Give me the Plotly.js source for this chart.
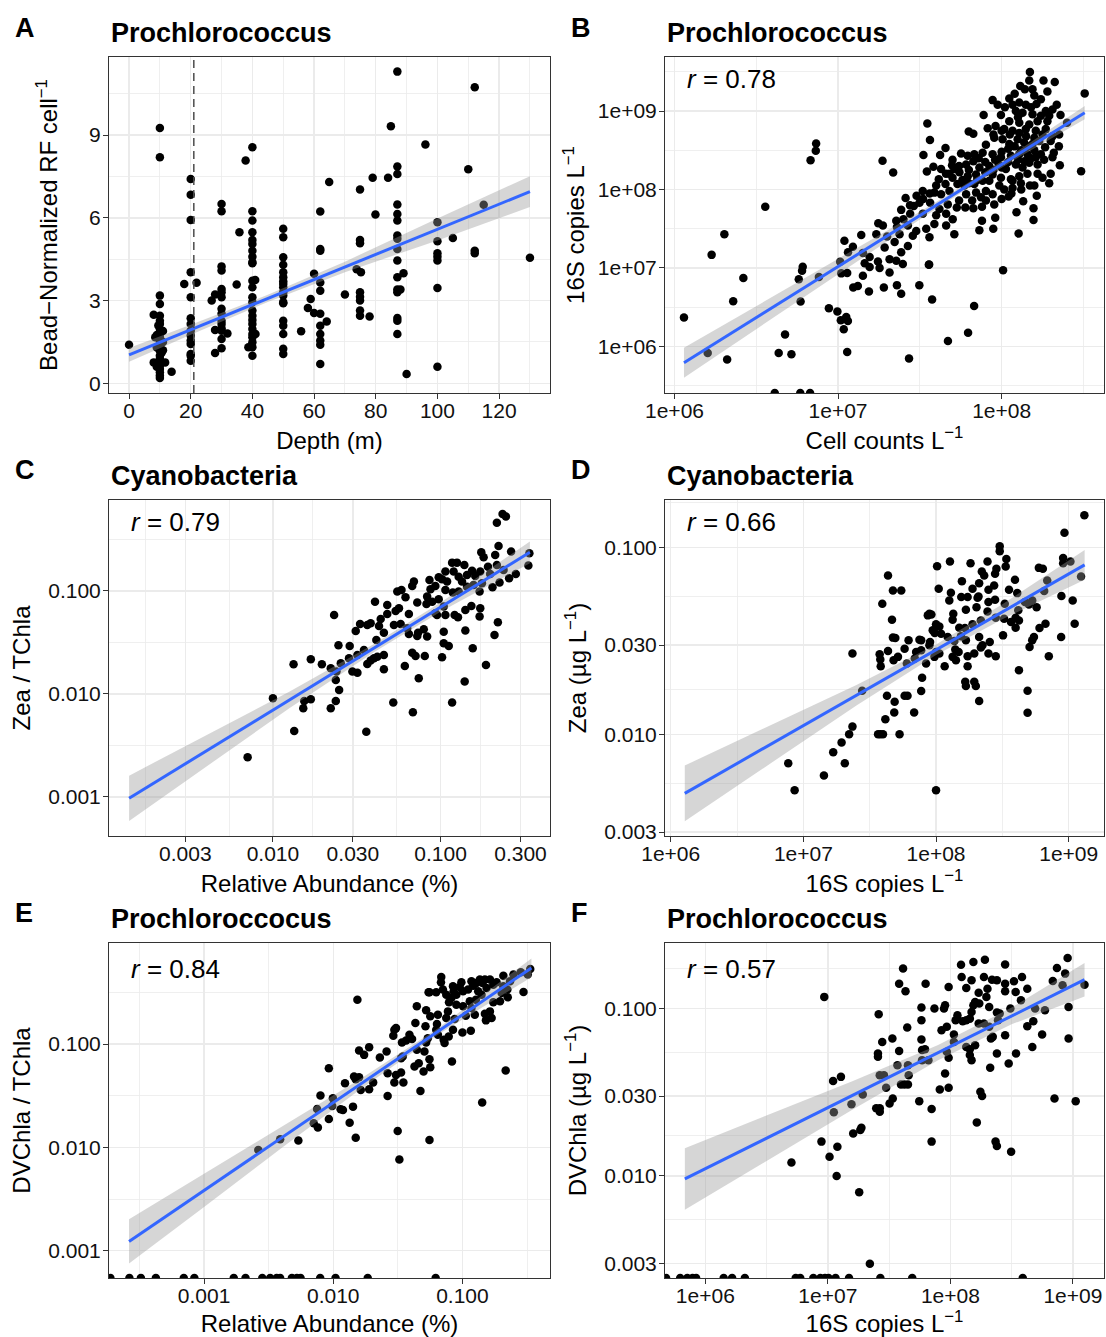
<!DOCTYPE html>
<html>
<head>
<meta charset="utf-8">
<script src="https://cdn.plot.ly/plotly-3.0.1.min.js"></script>
<style>html,body{margin:0;padding:0;background:#fff;}#chart{width:1106px;height:1337px;}</style>
</head>
<body>
<div id="chart"></div>
<script>
// ---------------- DATA ----------------
// Panel A: [depth (m), bead-normalized RF per cell]
const A_depth_rf = [
[0,1.40],
[10,9.26],[10,8.2],[10,3.18],[10,2.88],[10,2.45],[10,2.27],[10,2.15],[10,1.97],[10,1.79],[10,1.67],[10,1.55],[10,1.43],[10,1.31],[10,1.18],[10,1.0],[10,0.88],[10,0.76],[10,0.64],[10,0.52],[10,0.40],[10,0.28],[10,0.19],
[8,2.49],[8.5,1.67],[9,1.75],[9,1.3],[8,0.76],[11,1.9],[11,1.5],[11,1.2],[11.7,0.76],[13.8,0.42],[9.5,2.1],[10.5,1.1],[9,0.6],
[20,7.41],[20,6.84],[20,5.92],[20,4.03],[20,3.12],[20,2.36],[20,2.15],[20,1.91],[20,1.73],[20,1.55],[20,1.43],[20,1.06],[20,0.82],[17.9,3.6],[21.9,3.65],[20,1.0],
[26.8,3.0],[27.9,3.22],[30,6.5],[30,6.24],[30,4.24],[30,4.09],[30,3.42],[30,3.12],[30,2.70],[30,2.52],[30,2.27],[30,2.15],[30,1.91],[30,1.61],[27.9,1.93],[27.9,1.10],[30,1.27],[31.9,1.81],[30,2.0],[30,3.3],
[35.8,5.48],[34.9,3.58],[37.8,8.08],
[40,8.56],[40,6.24],[40,5.9],[40,5.48],[40,5.2],[40,5.05],[40,4.81],[40,4.59],[40,4.35],[40,3.72],[40,3.48],[40,3.12],[40,2.94],[40,2.64],[40,2.45],[40,2.15],[40,1.97],[40,1.79],[40,1.67],[40,1.49],[40,1.31],[40,1.0],[40.9,3.75],[41,1.79],[38.7,1.31],[40,4.4],[40,2.3],
[50,5.6],[50,5.3],[50,4.57],[50,4.3],[50,4.03],[50,3.85],[50,3.7],[50,3.48],[50,3.3],[50,3.18],[50,2.94],[50,2.27],[50,2.09],[50,1.79],[50,1.25],[50,1.06],[50,3.6],[50,2.9],
[55.8,1.89],[58.9,3.06],[58,2.73],[60,3.97],[60,2.55],
[62,6.23],[62,4.87],[62,4.81],[62,3.66],[62,3.36],[62,2.52],[62,2.09],[62,1.79],[62,1.55],[62,1.40],[62,0.70],[64.1,2.24],[64.9,7.3],
[70,3.22],[74.9,7.03],[74.9,5.2],[74.9,5.08],[73.8,4.14],[75.2,4.03],[74.9,3.30],[74.9,3.14],[74.9,3.0],[74.9,2.64],[74.9,2.45],[78,2.42],[79,7.45],[79.9,6.12],[84,7.45],[84.9,9.32],
[87,11.3],[87,7.86],[87,7.59],[87,6.48],[87,6.14],[87,5.9],[87,5.36],[87,5.24],[87,4.87],[87,4.45],[87,3.85],[87,3.40],[87,3.30],[87,2.37],[87,2.27],[87,1.79],[88,3.4],[89,3.99],[90,0.34],
[96.1,8.66],[100,5.84],[100,5.15],[100,4.72],[100,4.59],[100,4.45],[100,3.46],[100,0.60],[105,5.27],[110,7.76],[112.1,10.73],[112.1,4.81],[112.1,4.72],[115,6.47],[130,4.55]
];
const A_fit_depth = [0, 20, 45, 70, 100, 130];
const A_fit = [1.03, 1.94, 3.08, 4.22, 5.58, 6.95];
const A_fit_lo = [0.78, 1.76, 2.95, 4.03, 5.18, 6.39];
const A_fit_hi = [1.28, 2.12, 3.21, 4.41, 5.98, 7.51];
const A_threshold_depth = 21;

// Panel B: [log10 cell counts L-1, log10 16S copies L-1]
const B_logcells_log16S = [
[6.058,6.366],[6.203,5.915],[6.322,5.830],[6.227,7.166],[6.305,7.430],[6.359,6.574],[6.421,6.872],[6.555,7.779],[6.637,5.915],[6.676,6.149],[6.715,5.898],[6.760,6.855],[6.771,6.570],[6.784,7.013],[6.780,6.962],[6.832,8.374],[6.864,8.494],[6.866,8.587],[6.883,6.885],[6.944,6.485],[6.996,6.443],[7.017,6.332],[7.050,6.374],[7.060,6.323],[7.035,6.217],[7.056,5.928],[7.013,7.077],[7.056,6.936],[7.039,7.345],[7.093,6.749],[7.121,6.770],[7.434,5.843],[7.497,6.779],[7.575,6.596],[7.557,7.043],[7.672,6.068],[7.795,6.174],[7.832,6.515],[8.009,6.970],[8.104,7.438],[7.272,8.366],[7.337,8.217],[7.546,8.843],[7.562,8.630],[8.486,8.234],[8.508,9.226],
[8.173,9.5],[8.169,9.39],[8.114,9.32],[8.142,9.28],[8.189,9.28],[8.256,9.39],[8.325,9.37],[7.945,9.14],[7.976,9.08],[8.047,9.16],[8.067,9.08],[8.108,9.11],[8.148,9.08],[8.213,9.09],[8.337,9.08],[8.311,9.02],[8.270,9.0],[7.890,8.95],[7.996,8.95],[8.087,9.0],[8.128,8.98],[8.189,8.96],[8.240,8.94],[8.291,8.94],[8.047,8.87],[8.108,8.85],[8.169,8.83],[8.22,8.87],[8.28,8.87],[7.799,8.74],[7.827,8.71],[7.915,8.78],[7.963,8.81],[8.016,8.77],[8.067,8.75],[8.108,8.72],[8.148,8.77],[8.209,8.75],[8.270,8.77],[8.352,8.70],[7.904,8.57],[7.955,8.66],[8.006,8.64],[8.047,8.58],[8.098,8.64],[8.138,8.60],[8.189,8.58],[8.230,8.62],[8.311,8.68],[8.266,8.54],[7.657,8.53],[7.624,8.44],[7.522,8.44],[7.752,8.46],[7.793,8.43],[7.833,8.45],[7.884,8.47],[7.945,8.45],[7.996,8.41],[8.057,8.43],[8.108,8.45],[8.158,8.45],[8.209,8.41],[8.319,8.47],[8.311,8.41],[7.583,8.29],[7.630,8.26],[7.697,8.31],[7.711,8.26],[7.783,8.32],[7.827,8.36],[7.864,8.28],[7.925,8.30],[7.982,8.32],[8.026,8.26],[8.087,8.32],[8.128,8.28],[8.169,8.34],[8.22,8.32],[8.356,8.31],[7.543,8.23],[7.681,8.20],[7.742,8.22],[7.793,8.17],[7.844,8.19],[7.945,8.19],[7.996,8.15],[8.057,8.13],[8.108,8.17],[8.158,8.20],[8.22,8.20],[7.616,8.13],[7.657,8.07],[7.730,8.07],[7.772,8.05],[7.833,8.07],[7.884,8.11],[7.925,8.11],[7.986,8.05],[8.067,8.11],[8.118,8.08],[8.173,8.05],[8.291,8.08],[7.518,7.98],[7.589,7.96],[7.630,7.94],[7.681,7.98],[7.783,7.94],[7.844,7.96],[7.904,7.98],[7.945,7.94],[8.016,8.0],[8.067,8.02],[7.413,7.89],[7.463,7.79],[7.498,7.83],[7.563,7.83],[7.671,7.81],[7.726,7.77],[7.778,7.77],[7.827,7.76],[7.874,7.90],[7.904,7.86],[7.955,7.81],[8.043,7.91],[8.132,7.85],[8.215,7.92],[8.195,7.76],[8.091,7.71],[7.386,7.74],[7.441,7.69],[7.518,7.69],[7.6,7.67],[7.661,7.69],[7.701,7.62],[8.195,7.61],[7.880,7.60],[7.961,7.64],[7.246,7.57],[7.274,7.54],[7.356,7.60],[7.427,7.54],[7.478,7.47],[7.539,7.50],[7.589,7.56],[7.661,7.54],[7.711,7.43],[7.864,7.48],[7.949,7.50],[7.142,7.42],[7.234,7.43],[7.376,7.43],[7.457,7.41],[7.559,7.39],[7.091,7.27],[7.285,7.26],[7.346,7.33],[7.427,7.28],[7.061,7.20],[7.152,7.19],[7.193,7.14],[7.244,7.08],[7.315,7.11],[7.386,7.20],[7.356,7.09],[7.163,7.06],[7.193,7.01],[7.254,7.0],[7.315,6.94],[7.396,7.05],[7.555,7.04],[7.020,6.93],[7.152,6.90],[7.189,6.70],[7.280,6.75],[7.360,6.78],[7.386,6.67],
[7.70,8.38],[7.74,8.30],[7.80,8.25],[7.86,8.40],[7.90,8.35],[7.96,8.38],[8.00,8.48],[8.04,8.52],[8.08,8.55],[8.12,8.50],[8.16,8.55],[8.20,8.50],[8.24,8.45],[8.26,8.38],[8.18,8.40],[8.14,8.36],[8.10,8.38],[8.04,8.35],[8.00,8.28],[7.95,8.25],[7.90,8.22],[7.85,8.12],[7.80,8.08],[7.76,8.12],[7.70,8.15],[7.66,8.20],[7.60,8.05],[7.56,7.95],[7.52,7.88],[7.48,7.92],[7.44,7.80],[7.40,7.62],[7.36,7.52],[7.30,7.40],[7.62,7.75],[7.74,7.86],[7.82,7.86],[7.88,7.78],[8.00,7.88],[8.06,7.95],[8.12,8.00],[8.20,8.05],[8.25,8.15],[8.30,8.20],[8.35,8.55],[8.30,8.62],[8.25,8.70],[8.20,8.66],[8.15,8.68],[8.05,8.70],[8.00,8.75],[7.95,8.70],[8.10,8.92],[8.18,9.05],[8.24,9.15],[8.20,9.20],[8.28,9.25],[8.08,9.22],[8.02,9.05],[8.36,8.95],[8.40,8.85]
];
// Panel B samples with zero 16S copies (drawn at the panel edge)
const B_zero_logcells = [6.613, 6.769, 6.829];
const B_fit_logcells = [6.058, 6.5, 7.0, 7.5, 7.8, 8.1, 8.508];
const B_fit = [5.79, 6.365, 7.016, 7.667, 8.058, 8.449, 8.98];
const B_fit_lo = [5.60, 6.22, 6.921, 7.617, 8.023, 8.404, 8.895];
const B_fit_hi = [5.98, 6.51, 7.111, 7.717, 8.093, 8.494, 9.065];

// Panel C: [log10 relative abundance (%), log10 Zea/TChla]
const C_logabund_logratio = [
[-2.151,-2.615],[-2.0,-2.042],[-1.873,-2.359],[-1.877,-1.712],
[-0.664,-0.337],[-0.630,-0.252],[-0.610,-0.278],[-0.654,-0.563],[-0.674,-0.650],[-0.757,-0.625],[-0.743,-0.673],[-0.579,-0.618],[-0.470,-0.634],[-0.476,-0.754],[-0.931,-0.725],[-0.902,-0.725],[-0.858,-0.748],[-0.812,-0.803],[-0.763,-0.812],[-0.717,-0.764],[-0.664,-0.748],[-0.624,-0.796],[-0.551,-0.835],[-0.591,-0.877],[-0.971,-0.812],[-0.922,-0.812],[-0.892,-0.861],[-0.842,-0.845],[-0.793,-0.854],[-0.704,-0.835],[-1.011,-0.867],[-0.991,-0.887],[-1.066,-0.893],[-1.159,-0.909],[-1.169,-0.951],[-1.258,-1.006],[-1.233,-0.990],[-1.209,-1.061],[-1.080,-1.055],[-1.060,-0.984],[-1.031,-0.951],[-0.961,-0.909],[-0.872,-0.909],[-0.842,-0.958],[-0.803,-0.942],[-0.753,-0.926],[-0.690,-0.964],[-0.648,-0.919],[-0.767,-1.006],[-0.971,-0.990],[-0.927,-1.016],[-0.892,-1.006],[-1.084,-1.126],[-1.050,-1.104],[-1.011,-1.081],[-0.981,-1.152],[-1.139,-1.113],[-1.391,-1.104],[-1.318,-1.136],[-1.268,-1.194],[-1.248,-1.168],[-1.189,-1.223],[-1.031,-1.217],[-1.021,-1.233],[-0.971,-1.233],[-0.916,-1.233],[-0.896,-1.256],[-0.852,-1.184],[-0.816,-1.146],[-0.763,-1.168],[-0.767,-1.249],[-0.658,-1.304],[-0.678,-1.427],[-1.635,-1.233],[-1.480,-1.320],[-1.437,-1.330],[-1.417,-1.314],[-1.506,-1.388],[-1.367,-1.340],[-1.357,-1.272],[-1.318,-1.223],[-1.278,-1.330],[-1.238,-1.320],[-1.199,-1.362],[-1.189,-1.417],[-1.139,-1.437],[-1.134,-1.405],[-1.100,-1.372],[-1.080,-1.443],[-0.981,-1.395],[-0.852,-1.385],[-1.338,-1.405],[-1.609,-1.528],[-1.542,-1.534],[-1.383,-1.476],[-1.457,-1.573],[-0.981,-1.508],[-0.951,-1.534],[-0.808,-1.557],[-1.169,-1.599],[-1.149,-1.631],[-1.094,-1.631],[-0.991,-1.644],[-1.774,-1.663],[-1.708,-1.712],[-1.655,-1.751],[-1.595,-1.702],[-1.546,-1.654],[-1.496,-1.622],[-1.437,-1.709],[-1.417,-1.676],[-1.377,-1.638],[-1.338,-1.622],[-1.397,-1.654],[-1.213,-1.728],[-1.338,-1.761],[-1.526,-1.783],[-1.496,-1.793],[-1.621,-1.783],[-0.729,-1.718],[-1.130,-1.848],[-0.856,-1.880],[-1.625,-1.864],[-1.605,-1.961],[-1.625,-2.068],[-1.655,-2.139],[-1.774,-2.052],[-1.813,-2.068],[-1.819,-2.139],[-1.282,-2.084],[-0.931,-2.084],[-1.165,-2.178],[-1.443,-2.366]
];
const C_fit_logabund = [-2.858, -2.4, -1.9, -1.4, -1.0, -0.467];
const C_fit = [-3.013, -2.555, -2.056, -1.557, -1.157, -0.625];
const C_fit_lo = [-3.233, -2.705, -2.136, -1.597, -1.202, -0.730];
const C_fit_hi = [-2.793, -2.405, -1.976, -1.517, -1.112, -0.520];

// Panel D: [log10 16S copies L-1, log10 Zea (ug L-1)]
const D_log16S_logzea = [
[6.886,-2.155],[6.934,-2.299],[8.0,-2.299],
[9.118,-0.828],[8.968,-0.922],[8.958,-1.057],[8.958,-1.085],[9.013,-1.076],[9.093,-1.156],[8.945,-1.261],[9.03,-1.284],[9.045,-1.409],[8.943,-1.480],[8.85,-1.583],[8.825,-1.409],[8.78,-1.432],[8.775,-1.110],[8.805,-1.115],[8.838,-1.178],[8.815,-1.234],[8.725,-1.284],[8.758,-1.320],[8.67,-1.293],[8.70,-1.306],[8.62,-1.337],[8.60,-1.377],[8.625,-1.391],[8.565,-1.400],[8.60,-1.430],[8.738,-1.480],[8.725,-1.497],[8.705,-1.533],[8.625,-1.657],[8.69,-1.767],[8.69,-1.885],[8.612,-1.245],[8.595,-1.174],[8.55,-1.227],[8.525,-1.103],[8.48,-0.995],[8.48,-1.021],[8.53,-1.062],[8.388,-1.076],[8.445,-1.142],[8.455,-1.115],[8.345,-1.130],[8.363,-1.151],[8.26,-1.085],[8.105,-1.076],[8.008,-1.101],[8.195,-1.181],[8.275,-1.222],[8.325,-1.192],[8.395,-1.227],[8.438,-1.204],[8.445,-1.281],[8.395,-1.293],[8.518,-1.302],[8.313,-1.270],[8.32,-1.263],[8.238,-1.266],[8.19,-1.266],[8.10,-1.284],[8.112,-1.243],[8.02,-1.222],[8.225,-1.334],[8.305,-1.320],[8.388,-1.343],[8.45,-1.377],[8.513,-1.382],[8.338,-1.391],[8.13,-1.355],[8.125,-1.387],[7.95,-1.355],[7.965,-1.359],[8.0,-1.412],[8.025,-1.423],[7.975,-1.444],[7.99,-1.458],[8.038,-1.462],[8.088,-1.480],[8.175,-1.430],[8.218,-1.432],[8.275,-1.412],[8.188,-1.476],[8.225,-1.497],[8.325,-1.480],[8.405,-1.506],[8.35,-1.524],[8.338,-1.536],[8.138,-1.501],[8.145,-1.547],[8.17,-1.560],[8.238,-1.583],[8.288,-1.568],[8.395,-1.568],[8.45,-1.583],[8.505,-1.471],[8.125,-1.586],[8.15,-1.604],[8.238,-1.636],[8.065,-1.636],[7.988,-1.586],[8.0,-1.560],[8.025,-1.568],[7.95,-1.524],[7.955,-1.506],[7.888,-1.497],[7.875,-1.494],[7.925,-1.622],[7.888,-1.551],[7.85,-1.560],[7.793,-1.497],[7.763,-1.542],[7.693,-1.485],[7.675,-1.483],[7.713,-1.586],[7.68,-1.604],[7.638,-1.554],[7.575,-1.572],[7.58,-1.600],[7.583,-1.636],[7.78,-1.622],[7.84,-1.595],[7.938,-1.364],[7.595,-1.302],[7.668,-1.387],[7.638,-1.151],[7.675,-1.231],[7.738,-1.231],[7.895,-1.698],[7.888,-1.769],[7.785,-1.794],[7.763,-1.794],[7.688,-1.826],[7.63,-1.794],[7.835,-1.883],[7.685,-1.883],[7.618,-1.920],[7.58,-2.0],[7.563,-2.0],[7.60,-2.0],[7.725,-2.0],[8.22,-1.719],[8.288,-1.719],[8.225,-1.742],[8.30,-1.742],[8.325,-1.822],[7.37,-1.568],[7.443,-1.767],[7.37,-1.959],[7.345,-2.0],[7.288,-2.044],[7.225,-2.096],[7.3125,-2.155],[7.155,-2.22]
];
const D_fit_log16S = [6.106, 6.8, 7.4, 8.0, 8.5, 9.12];
const D_fit = [-2.316, -2.035, -1.791, -1.548, -1.345, -1.094];
const D_fit_lo = [-2.465, -2.135, -1.846, -1.576, -1.385, -1.174];
const D_fit_hi = [-2.167, -1.935, -1.736, -1.520, -1.305, -1.014];

// Panel E: [log10 relative abundance (%), log10 DVChla/TChla]
const E_logabund_logratio = [
[-2.580,-2.024],[-2.411,-1.921],[-2.270,-1.934],
[-0.475,-0.272],[-0.494,-0.327],[-0.527,-0.495],[-0.548,-0.304],[-0.605,-0.327],[-0.631,-0.392],[-0.683,-0.337],[-0.683,-0.440],[-0.652,-0.472],[-0.649,-0.547],[-0.696,-0.505],[-0.735,-0.401],[-0.761,-0.424],[-0.787,-0.375],[-0.813,-0.456],[-0.826,-0.375],[-0.844,-0.408],[-0.865,-0.375],[-0.891,-0.408],[-0.917,-0.434],[-0.930,-0.392],[-0.956,-0.472],[-0.878,-0.489],[-0.852,-0.521],[-0.896,-0.570],[-0.943,-0.586],[-1.008,-0.401],[-1.021,-0.447],[-1.047,-0.521],[-0.995,-0.489],[-1.073,-0.440],[-1.068,-0.489],[-1.086,-0.553],[-1.125,-0.521],[-1.104,-0.595],[-1.047,-0.618],[-0.995,-0.634],[-0.930,-0.650],[-0.974,-0.725],[-0.904,-0.715],[-0.826,-0.706],[-0.787,-0.683],[-0.818,-0.770],[-0.774,-0.748],[-0.761,-0.595],[-0.709,-0.586],[-1.164,-0.350],[-1.166,-0.401],[-1.203,-0.498],[-1.255,-0.498],[-1.262,-0.498],[-1.151,-0.472],[-1.112,-0.683],[-1.190,-0.715],[-1.197,-0.806],[-1.125,-0.748],[-1.060,-0.757],[-1.073,-0.861],[-1.0,-0.887],[-0.935,-0.871],[-1.145,-0.958],[-1.138,-0.990],[-1.106,-0.926],[-1.281,-0.673],[-1.249,-0.731],[-1.353,-0.634],[-1.364,-0.796],[-1.286,-0.828],[-1.268,-0.942],[-1.281,-0.984],[-1.203,-0.861],[-1.190,-0.909],[-1.255,-1.146],[-1.249,-1.223],[-1.301,-1.265],[-1.294,-1.071],[-1.353,-1.055],[-1.338,-1.184],[-1.371,-1.217],[-1.081,-1.168],[-1.410,-0.909],[-1.390,-0.951],[-1.436,-0.964],[-1.468,-0.984],[-1.514,-0.845],[-1.535,-0.919],[-1.527,-0.861],[-1.462,-1.120],[-1.475,-1.136],[-1.587,-1.071],[-1.639,-1.129],[-1.722,-1.029],[-1.800,-1.061],[-1.761,-1.104],[-1.813,-0.570],[-1.579,-1.282],[-1.514,-1.298],[-1.475,-1.275],[-1.527,-1.372],[-1.457,-1.372],[-1.579,-1.502],[-1.325,-1.453],[-1.691,-1.372],[-1.722,-1.437],[-1.787,-1.443],[-1.800,-1.320],[-1.826,-1.340],[-1.839,-1.314],[-1.909,-1.379],[-2.034,-1.233],[-2.099,-1.498],[-2.003,-1.524],[-2.008,-1.599],[-2.125,-1.628],[-1.943,-1.631],[-1.925,-1.638],[-1.847,-1.605],[-2.034,-1.725],[-1.873,-1.760],[-2.151,-1.767],[-2.119,-1.806],[-1.826,-1.906],[-1.501,-1.841],[-1.488,-2.117],[-1.255,-1.929],[-0.847,-1.566],[-0.665,-1.256]
];
// Panel E samples with zero DVChla (drawn at the panel edge)
const E_zero_logabund = [-3.725,-3.578,-3.489,-3.373,-3.157,-3.075,-2.770,-2.679,-2.549,-2.488,-2.438,-2.411,-2.320,-2.281,-2.253,-2.101,-1.982,-1.733,-1.207];
const E_fit_logabund = [-3.581, -3.0, -2.4, -1.8, -1.2, -0.466];
const E_fit = [-2.910, -2.416, -1.906, -1.396, -0.886, -0.262];
const E_fit_lo = [-3.124, -2.576, -2.006, -1.446, -0.916, -0.352];
const E_fit_hi = [-2.696, -2.256, -1.806, -1.346, -0.856, -0.172];

// Panel F: [log10 16S copies L-1, log10 DVChla (ug L-1)]
const F_log16S_logdvchla = [
[8.957,-0.698],[8.870,-0.757],[8.937,-0.791],[8.836,-0.835],[8.916,-0.861],[9.095,-0.857],[8.965,-0.990],[8.965,-1.179],[9.023,-1.553],[8.850,-1.537],[8.772,-1.010],[8.749,-1.155],[8.677,-1.076],[8.628,-1.105],[8.669,-1.229],[8.692,-1.0],[8.628,-0.881],[8.576,-0.950],[8.585,-0.811],[8.519,-0.837],[8.533,-0.901],[8.490,-1.0],[8.447,-0.736],[8.447,-0.851],[8.447,-0.897],[8.447,-1.159],[8.476,-1.328],[8.536,-1.268],[8.403,-1.030],[8.380,-1.024],[8.389,-1.070],[8.340,-0.827],[8.380,-0.831],[8.282,-0.708],[8.274,-0.811],[8.303,-0.881],[8.294,-0.930],[8.317,-0.990],[8.231,-0.905],[8.236,-0.970],[8.202,-0.960],[8.188,-0.980],[8.173,-1.020],[8.231,-1.089],[8.274,-1.089],[8.317,-1.109],[8.331,-1.179],[8.346,-1.169],[8.188,-0.722],[8.173,-0.831],[8.130,-0.877],[8.087,-0.738],[8.092,-0.811],[8.159,-1.060],[8.130,-1.070],[8.101,-1.076],[8.058,-1.040],[8.043,-1.070],[8.029,-1.155],[8.029,-1.199],[7.986,-0.871],[7.971,-1.109],[7.928,-1.129],[7.957,-0.980],[7.948,-1.0],[7.870,-1.0],[7.798,-0.851],[7.648,-1.113],[7.764,-1.070],[7.764,-1.185],[7.793,-1.243],[7.764,-0.994],[7.527,-1.179],[7.614,-0.761],[7.582,-0.851],[7.634,-0.897],[7.415,-1.034],[7.444,-1.199],[7.582,-1.254],[7.409,-1.268],[7.409,-1.288],[7.654,-1.338],[7.769,-1.248],[7.821,-1.308],[7.971,-1.258],[7.986,-1.294],[7.957,-1.388],[7.986,-1.473],[7.914,-1.483],[8.159,-1.243],[8.159,-1.278],[8.202,-1.219],[8.173,-1.308],[8.130,-1.229],[8.325,-1.354],[8.380,-1.268],[8.245,-1.497],[8.259,-1.523],[8.216,-1.680],[8.369,-1.795],[8.380,-1.821],[8.496,-1.855],[7.847,-1.600],[7.847,-1.795],[7.746,-1.553],[7.660,-1.398],[7.654,-1.453],[7.625,-1.453],[7.597,-1.453],[7.568,-1.338],[7.530,-1.537],[7.504,-1.567],[7.476,-1.473],[7.458,-1.398],[7.424,-1.398],[7.424,-1.596],[7.395,-1.596],[7.424,-1.616],[7.285,-1.513],[7.274,-1.712],[7.265,-1.726],[7.207,-1.746],[7.193,-1.571],[7.107,-1.408],[7.043,-1.433],[7.049,-1.620],[7.078,-1.825],[6.948,-1.795],[7.014,-1.885],[7.072,-2.0],[7.256,-2.097],[6.703,-1.920],[6.971,-0.930],[7.343,-2.525],[7.769,-1.308]
];
// Panel F samples with zero DVChla (drawn at the panel edge)
const F_zero_log16S = [5.680,5.795,5.853,5.896,5.925,6.150,6.219,6.323,6.738,6.775,6.882,6.939,6.977,7.006,7.063,7.173,7.429,7.689,8.591];
const F_fit_log16S = [5.833, 6.5, 7.2, 7.9, 8.5, 9.095];
const F_fit = [-2.018, -1.774, -1.519, -1.263, -1.044, -0.827];
const F_fit_lo = [-2.202, -1.909, -1.604, -1.308, -1.094, -0.927];
const F_fit_hi = [-1.834, -1.639, -1.434, -1.218, -0.994, -0.727];

// Tick labels
const sciTicks = ['1e+06', '1e+07', '1e+08', '1e+09'];
const C_xticks = ['0.003', '0.010', '0.030', '0.100', '0.300'];
const ratioTicks = ['0.001', '0.010', '0.100'];
const conc_ticks = ['0.003', '0.010', '0.030', '0.100'];
const rValues = ['0.78', '0.79', '0.66', '0.84', '0.57'];

// ---------------- BUILD ----------------
const FONT = 'Liberation Sans, Arial, Helvetica, sans-serif';
const W = 1106, H = 1337;
const P = v => Math.pow(10, v);
const axId = n => (n === 1 ? '' : String(n));

const traces = [];
function addPanel(n, pts, logx, logy, fitX, fit, lo, hi, zeros, yMinLog) {
  const xs = pts.map(p => logx ? P(p[0]) : p[0]);
  const ys = pts.map(p => logy ? P(p[1]) : p[1]);
  if (zeros) {
    zeros.forEach(z => { xs.push(logx ? P(z) : z); ys.push(P(yMinLog)); });
  }
  const xr = 'x' + axId(n), yr = 'y' + axId(n);
  traces.push({type: 'scatter', mode: 'markers', x: xs, y: ys, xaxis: xr, yaxis: yr,
    marker: {color: '#000000', size: 8.5, line: {width: 0}}, cliponaxis: true, hoverinfo: 'skip', showlegend: false});
  const fx = fitX.map(v => logx ? P(v) : v);
  const tr = v => logy ? P(v) : v;
  traces.push({type: 'scatter', mode: 'lines', x: fx.concat(fx.slice().reverse()),
    y: hi.map(tr).concat(lo.map(tr).reverse()), fill: 'toself', fillcolor: 'rgba(153,153,153,0.4)',
    line: {width: 0}, xaxis: xr, yaxis: yr, hoverinfo: 'skip', showlegend: false});
  traces.push({type: 'scatter', mode: 'lines', x: fx, y: fit.map(tr), line: {color: '#3366FF', width: 3},
    xaxis: xr, yaxis: yr, hoverinfo: 'skip', showlegend: false});
}

const ranges = {
  1: {x: [-6.5, 136.5], y: [-0.35, 11.83]},
  2: {x: [5.942, 8.626], y: [5.404, 9.69]},
  3: {x: [-2.978, -0.347], y: [-3.379, -0.117]},
  4: {x: [5.957, 9.266], y: [-2.544, -0.747]},
  5: {x: [-3.736, -0.322], y: [-3.264, -0.021]},
  6: {x: [5.671, 9.254], y: [-2.610, -0.608]}
};

addPanel(1, A_depth_rf, false, false, A_fit_depth, A_fit, A_fit_lo, A_fit_hi, null, 0);
addPanel(2, B_logcells_log16S, true, true, B_fit_logcells, B_fit, B_fit_lo, B_fit_hi, B_zero_logcells, ranges[2].y[0]);
addPanel(3, C_logabund_logratio, true, true, C_fit_logabund, C_fit, C_fit_lo, C_fit_hi, null, 0);
addPanel(4, D_log16S_logzea, true, true, D_fit_log16S, D_fit, D_fit_lo, D_fit_hi, null, 0);
addPanel(5, E_logabund_logratio, true, true, E_fit_logabund, E_fit, E_fit_lo, E_fit_hi, E_zero_logabund, ranges[5].y[0]);
addPanel(6, F_log16S_logdvchla, true, true, F_fit_log16S, F_fit, F_fit_lo, F_fit_hi, F_zero_log16S, ranges[6].y[0]);

const colL = [109, 550], colR = [665, 1104];
const rows = [[57, 393], [500, 836], [943, 1278]];
const dx = c => [c[0] / W, c[1] / W];
const dy = r => [1 - r[1] / H, 1 - r[0] / H];

function axis(isX, domain, anchor, range, type, tickvals, ticktext, minorvals, title, standoff) {
  return {
    domain: domain, anchor: anchor, range: range, type: type, autorange: false,
    tickmode: 'array', tickvals: tickvals, ticktext: ticktext,
    ticks: 'outside', ticklen: 5, tickwidth: 1, tickcolor: '#333333',
    ticklabelstandoff: isX ? -6 : -2,
    tickfont: {family: FONT, size: 21, color: '#111111'},
    showgrid: true, gridcolor: '#EBEBEB', gridwidth: 1.4,
    minor: {tickmode: 'array', tickvals: minorvals, showgrid: true, gridcolor: '#EBEBEB', gridwidth: 0.8, ticks: ''},
    showline: true, linecolor: '#333333', linewidth: 1, mirror: true, zeroline: false,
    fixedrange: true,
    title: {text: title, font: {family: FONT, size: 24, color: '#000'}, standoff: standoff}
  };
}
const logVals = arr => arr.map(P);
const sup = '<sup>\u22121</sup>';

const layout = {
  width: W, height: H, margin: {l: 0, r: 0, t: 0, b: 0},
  paper_bgcolor: '#fff', plot_bgcolor: '#fff', showlegend: false,
  font: {family: FONT, color: '#000'},
  xaxis: axis(true, dx(colL), 'y', ranges[1].x, 'linear', [0,20,40,60,80,100,120], ['0','20','40','60','80','100','120'], [10,30,50,70,90,110,130], 'Depth (m)', 10),
  yaxis: axis(false, dy(rows[0]), 'x', ranges[1].y, 'linear', [0,3,6,9], ['0','3','6','9'], [1.5,4.5,7.5,10.5], 'Bead\u2212Normalized RF cell' + sup, 24),
  xaxis2: axis(true, dx(colR), 'y2', ranges[2].x, 'log', logVals([6,7,8]), sciTicks.slice(0,3), logVals([6.5,7.5,8.5]), 'Cell counts L' + sup, 10),
  yaxis2: axis(false, dy(rows[0]), 'x2', ranges[2].y, 'log', logVals([6,7,8,9]), sciTicks, logVals([5.5,6.5,7.5,8.5,9.5]), '16S copies L' + sup, 6),
  xaxis3: axis(true, dx(colL), 'y3', ranges[3].x, 'log', [0.003,0.01,0.03,0.1,0.3], C_xticks, logVals([-2.761,-2.262,-1.761,-1.262,-0.761]), 'Relative Abundance (%)', 10),
  yaxis3: axis(false, dy(rows[1]), 'x3', ranges[3].y, 'log', [0.001,0.01,0.1], ratioTicks, logVals([-2.5,-1.5,-0.5]), 'Zea / TChla', 10),
  xaxis4: axis(true, dx(colR), 'y4', ranges[4].x, 'log', logVals([6,7,8,9]), sciTicks, logVals([6.5,7.5,8.5]), '16S copies L' + sup, 10),
  yaxis4: axis(false, dy(rows[1]), 'x4', ranges[4].y, 'log', [0.003,0.01,0.03,0.1], conc_ticks, logVals([-2.262,-1.761,-1.262,-0.761]), 'Zea (\u00b5g L' + sup + ')', 10),
  xaxis5: axis(true, dx(colL), 'y5', ranges[5].x, 'log', [0.001,0.01,0.1], ratioTicks, logVals([-3.5,-2.5,-1.5,-0.5]), 'Relative Abundance (%)', 10),
  yaxis5: axis(false, dy(rows[2]), 'x5', ranges[5].y, 'log', [0.001,0.01,0.1], ratioTicks, logVals([-2.5,-1.5,-0.5]), 'DVChla / TChla', 10),
  xaxis6: axis(true, dx(colR), 'y6', ranges[6].x, 'log', logVals([6,7,8,9]), sciTicks, logVals([6.5,7.5,8.5]), '16S copies L' + sup, 10),
  yaxis6: axis(false, dy(rows[2]), 'x6', ranges[6].y, 'log', [0.003,0.01,0.03,0.1], conc_ticks, logVals([-2.262,-1.761,-1.262,-0.761]), 'DVChla (\u00b5g L' + sup + ')', 10),
  shapes: [{type: 'line', xref: 'x', yref: 'y domain', x0: A_threshold_depth, x1: A_threshold_depth, y0: 0, y1: 1,
    line: {color: '#4D4D4D', width: 1.5, dash: '8px,5px'}, layer: 'above'}],
  annotations: []
};

const px = v => v / W, py = v => 1 - v / H;
const letters = [['A', 13, 28], ['B', 569, 28], ['C', 13, 470], ['D', 569, 470], ['E', 13, 913], ['F', 569, 913]];
letters.forEach(l => layout.annotations.push({text: '<b>' + l[0] + '</b>', xref: 'paper', yref: 'paper', x: px(l[1]), y: py(l[2]),
  xanchor: 'left', yanchor: 'middle', showarrow: false, font: {family: FONT, size: 27, color: '#000'}}));
const titles = [['Prochlorococcus', 109, 33], ['Prochlorococcus', 665, 33], ['Cyanobacteria', 109, 476], ['Cyanobacteria', 665, 476], ['Prochloroccocus', 109, 919], ['Prochlorococcus', 665, 919]];
titles.forEach(t => layout.annotations.push({text: '<b>' + t[0] + '</b>', xref: 'paper', yref: 'paper', x: px(t[1]), y: py(t[2]),
  xanchor: 'left', yanchor: 'middle', showarrow: false, font: {family: FONT, size: 27, color: '#000'}}));
const rPos = [[685, 79], [129, 522], [685, 522], [129, 969], [685, 969]];
rPos.forEach((p, i) => layout.annotations.push({text: '<i>r</i> = ' + rValues[i], xref: 'paper', yref: 'paper', x: px(p[0]), y: py(p[1]),
  xanchor: 'left', yanchor: 'middle', showarrow: false, font: {family: FONT, size: 26, color: '#000'}}));

Plotly.newPlot('chart', traces, layout, {displayModeBar: false, staticPlot: true});
</script>
</body>
</html>
